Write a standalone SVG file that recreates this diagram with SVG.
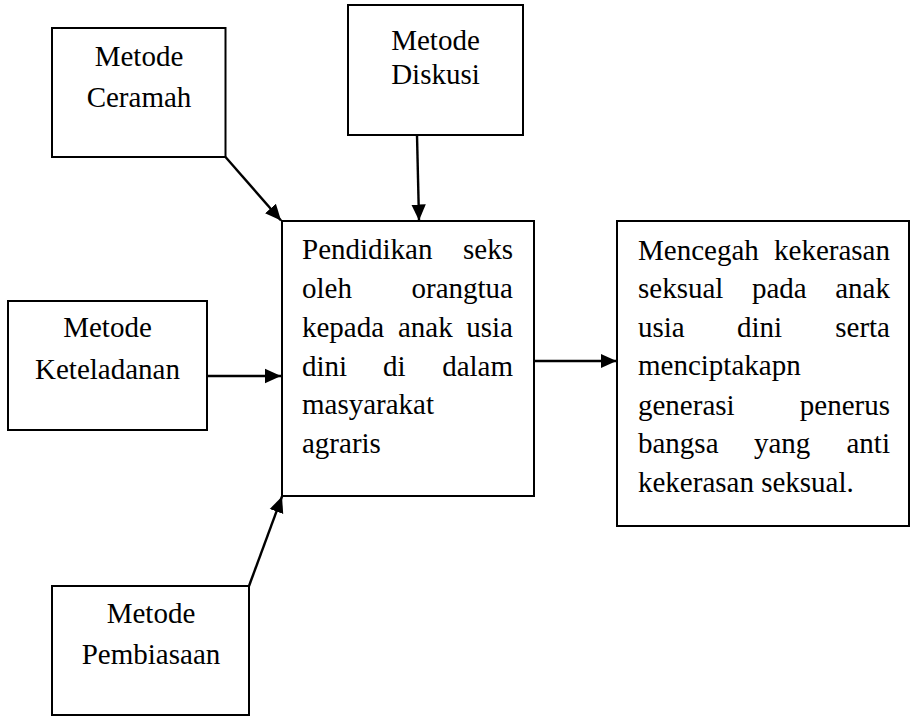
<svg xmlns="http://www.w3.org/2000/svg" width="911" height="717" viewBox="0 0 911 717">
<defs>
<marker id="ah" markerUnits="userSpaceOnUse" markerWidth="18" markerHeight="16" refX="16" refY="8" orient="auto">
<path d="M0,0.8 L16,8 L0,15.2 z" fill="#000"/>
</marker>
<style>
rect{fill:#fff;stroke:#000;stroke-width:2}
text{font-family:"Liberation Serif","Times New Roman",serif;font-size:29px;fill:#000}
.c{text-anchor:middle}
.e{text-anchor:end}
.ln{stroke:#000;stroke-width:2.4;fill:none;marker-end:url(#ah)}
</style>
</defs>
<rect x="0" y="0" width="911" height="717" style="fill:#fff;stroke:none"/>
<g id="connectors">
<line class="ln" x1="225.5" y1="157" x2="281" y2="220.5"/>
<line class="ln" x1="417" y1="135" x2="419" y2="220.5"/>
<line class="ln" x1="207" y1="376" x2="281" y2="376"/>
<line class="ln" x1="249" y1="586" x2="282" y2="496.5"/>
<line class="ln" x1="534" y1="361" x2="616.5" y2="361"/>
</g>
<g id="ceramah">
<rect x="52" y="28" width="173.5" height="129"/>
<text class="c" x="139" y="66">Metode</text>
<text class="c" x="139" y="107">Ceramah</text>
</g>
<g id="diskusi">
<rect x="348" y="5" width="175" height="130"/>
<text class="c" x="435.5" y="50">Metode</text>
<text class="c" x="435.5" y="84">Diskusi</text>
</g>
<g id="keteladanan">
<rect x="8" y="301" width="199" height="129"/>
<text class="c" x="107.5" y="337">Metode</text>
<text class="c" x="107.5" y="379">Keteladanan</text>
</g>
<g id="pembiasaan">
<rect x="52" y="586" width="197" height="129"/>
<text class="c" x="151" y="623">Metode</text>
<text class="c" x="151" y="664">Pembiasaan</text>
</g>
<g id="pendidikan">
<rect x="282" y="221" width="252" height="275"/>
<text x="302" y="259">Pendidikan</text>
<text class="e" x="513" y="259">seks</text>
<text x="302" y="298">oleh</text>
<text class="e" x="513" y="298">orangtua</text>
<text x="302" y="337">kepada</text>
<text x="398" y="337">anak</text>
<text class="e" x="513" y="337">usia</text>
<text x="302" y="376">dini</text>
<text x="383" y="376">di</text>
<text class="e" x="513" y="376">dalam</text>
<text x="302" y="414">masyarakat</text>
<text x="302" y="453">agraris</text>
</g>
<g id="mencegah">
<rect x="617" y="221" width="292" height="305"/>
<text x="638" y="260">Mencegah</text>
<text class="e" x="890" y="260">kekerasan</text>
<text x="638" y="298">seksual</text>
<text x="752" y="298">pada</text>
<text class="e" x="890" y="298">anak</text>
<text x="638" y="337">usia</text>
<text x="737" y="337">dini</text>
<text class="e" x="890" y="337">serta</text>
<text x="638" y="375">menciptakapn</text>
<text x="638" y="415">generasi</text>
<text class="e" x="890" y="415">penerus</text>
<text x="638" y="453">bangsa</text>
<text x="754" y="453">yang</text>
<text class="e" x="890" y="453">anti</text>
<text x="638" y="492">kekerasan seksual.</text>
</g>
</svg>
